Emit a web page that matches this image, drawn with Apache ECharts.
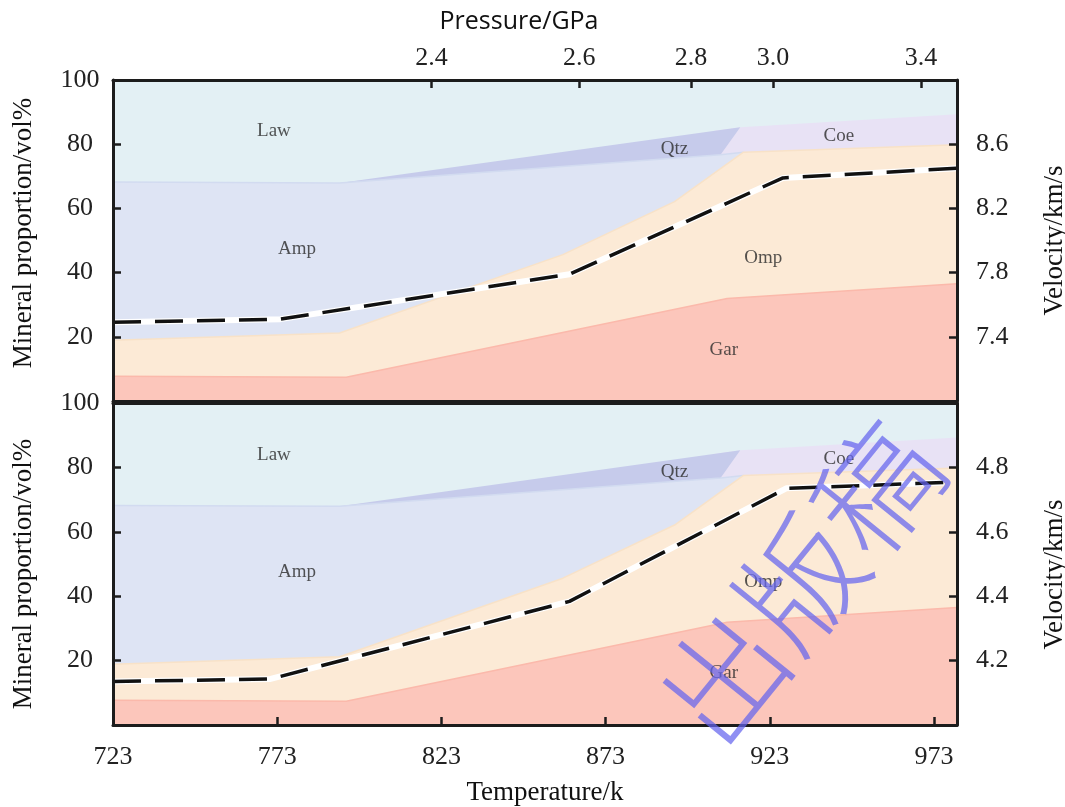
<!DOCTYPE html>
<html><head><meta charset="utf-8">
<script src="https://cdn.jsdelivr.net/npm/echarts@6/dist/echarts.min.js"></script>
<style>html,body{margin:0;padding:0;background:#fff}#c{width:1065px;height:807px}</style>
</head><body><div id="c"></div>
<script>
// ---------- data ----------
// temperature axis ticks (K)
const tempTicks = [723, 773, 823, 873, 923, 973];
// pressure axis: labels and the temperature at which each one sits
const pressureLabels = ['2.4', '2.6', '2.8', '3.0', '3.4'];
const pressureAtTemp = [820, 865, 899, 924, 969];
// velocity ticks
const vpTicks = [7.4, 7.8, 8.2, 8.6];
const vsTicks = [4.2, 4.4, 4.6, 4.8];

// mineral fields: upper edge of each coloured field, [T (K), vol%]
const lawTop = [[723, 100], [980, 100]];
const coeTop = [[906, 84.2], [914, 85.3], [980, 89.3]];
const qtzTop = [[792, 67.9], [914, 85.3], [908, 76.7]];
const ampTop = [[723, 68.2], [792, 67.9], [908, 76.7], [915, 77.5]];
const ompTop = [[723, 18.9], [792, 21.2], [860, 45.6], [894, 62.1], [915, 77.5], [980, 79.8]];
const garTop = [[723, 7.7], [794, 7.4], [910, 31.9], [980, 36.5]];

// velocity curves
const vpTemp = [723, 774, 862, 927, 980];
const vpVal  = [7.49, 7.51, 7.79, 8.39, 8.45];
const vsTemp = [723, 771, 862, 928, 976];
const vsVal  = [4.135, 4.143, 4.384, 4.735, 4.753];

// field names and where they are written
const fieldNames  = ['Law', 'Amp', 'Qtz', 'Coe', 'Omp', 'Gar'];
const fieldLabelT = [772, 779, 894, 944, 921, 909];
const fieldLabelP = [84, 47.5, 78.5, 82.5, 44.5, 16];

// ---------- styles ----------
const SERIF = 'Liberation Serif';
const INK = '#1c1c1c';
const fields = [
  {data: lawTop, color: '#e3f0f4', edge: null},
  {data: coeTop, color: '#e8e2f5', edge: null},
  {data: qtzTop, color: '#c6cbeb', edge: null},
  {data: ampTop, color: '#dee4f4', edge: '#d2dbf0'},
  {data: ompTop, color: '#fcead6', edge: '#f8e2c8'},
  {data: garTop, color: '#fcc6bb', edge: '#fbb9ab'}
];

const TMIN = 723, TMAX = 980;
const axisLine = {show: true, onZero: false, lineStyle: {color: INK, width: 3}};
const tick = {show: true, inside: true, length: 8, lineStyle: {color: INK, width: 2.5}};
const lab = {fontFamily: SERIF, fontSize: 26, color: '#222'};
const NAMEFS = 27;

function tempAxis(gi, pos, showLabels) {
  return {
    type: 'value', gridIndex: gi, position: pos, min: TMIN, max: TMAX, z: 10,
    axisLine, splitLine: {show: false},
    axisTick: showLabels ? Object.assign({customValues: tempTicks}, tick) : {show: false},
    axisLabel: showLabels ? Object.assign({customValues: tempTicks, margin: 19}, lab) : {show: false},
    name: showLabels ? 'Temperature/k' : '', nameLocation: 'middle', nameGap: 54,
    nameTextStyle: {fontFamily: SERIF, fontSize: NAMEFS, color: '#111', padding: [0, 0, 0, 20]}
  };
}
function propAxis(gi, nameShift) {
  return {
    type: 'value', gridIndex: gi, position: 'left', min: 0, max: 100, interval: 20, z: 10,
    axisLine, axisTick: tick, splitLine: {show: false},
    axisLabel: Object.assign({showMinLabel: false, align: 'center', margin: 33}, lab),
    name: 'Mineral proportion/vol%', nameLocation: 'middle', nameGap: 76,
    nameTextStyle: {fontFamily: SERIF, fontSize: NAMEFS, color: '#111', padding: nameShift}
  };
}
function velAxis(gi, min, max, ticks, nameShift) {
  return {
    type: 'value', gridIndex: gi, position: 'right', min, max, z: 10,
    axisLine, splitLine: {show: false},
    axisTick: Object.assign({customValues: ticks}, tick),
    axisLabel: Object.assign({customValues: ticks, margin: 19, formatter: v => v.toFixed(1)}, lab),
    name: 'Velocity/km/s', nameLocation: 'middle', nameGap: 84,
    nameTextStyle: {fontFamily: SERIF, fontSize: NAMEFS, color: '#111', padding: nameShift}
  };
}

function panelSeries(xi, yl, yr, vT, vV) {
  const s = [];
  fields.forEach((f, i) => {
    s.push({
      type: 'line', xAxisIndex: xi, yAxisIndex: yl, data: f.data, symbol: 'none', silent: true,
      lineStyle: {width: f.edge ? 1.5 : 0, color: f.edge || f.color},
      areaStyle: {color: f.color, opacity: 1}, z: 2 + i * 0.01
    });
  });
  const vel = vT.map((t, i) => [t, vV[i]]);
  s.push({type: 'line', xAxisIndex: xi, yAxisIndex: yr, data: vel, symbol: 'none', silent: true,
    lineStyle: {color: '#ffffff', width: 6, cap: 'butt', join: 'round'}, z: 3});
  s.push({type: 'line', xAxisIndex: xi, yAxisIndex: yr, data: vel, symbol: 'none', silent: true,
    lineStyle: {color: '#111', width: 3.5, type: [28, 14], cap: 'butt', join: 'round'}, z: 4});
  s.push({type: 'scatter', xAxisIndex: xi, yAxisIndex: yl, symbolSize: 1, silent: true, z: 5,
    itemStyle: {color: 'rgba(0,0,0,0)'},
    data: fieldNames.map((n, i) => ({name: n, value: [fieldLabelT[i], fieldLabelP[i]]})),
    label: {show: true, position: 'inside', formatter: p => p.name,
      fontFamily: SERIF, fontSize: 19, color: '#2a2a2a'}});
  return s;
}

const option = {
  backgroundColor: '#ffffff',
  animation: false,
  grid: [
    {left: 113, top: 80, width: 844, height: 321, containLabel: false, outerBoundsMode: 'none'},
    {left: 113, top: 403, width: 844, height: 322, containLabel: false, outerBoundsMode: 'none'}
  ],
  xAxis: [
    tempAxis(0, 'bottom', false),
    {
      type: 'value', gridIndex: 0, position: 'top', min: TMIN, max: TMAX, z: 10,
      axisLine, splitLine: {show: false},
      axisTick: Object.assign({customValues: pressureAtTemp}, tick),
      axisLabel: Object.assign({customValues: pressureAtTemp, margin: 9,
        formatter: v => pressureLabels[pressureAtTemp.indexOf(v)]}, lab),
      name: 'Pressure/GPa', nameLocation: 'middle', nameGap: 46,
      nameTextStyle: {fontFamily: 'Open Sans', fontSize: 25, color: '#111', padding: [0, 32, 0, 0]}
    },
    tempAxis(1, 'bottom', true),
    {type: 'value', gridIndex: 1, position: 'top', min: TMIN, max: TMAX, z: 10,
      axisLine, splitLine: {show: false}, axisTick: {show: false}, axisLabel: {show: false}}
  ],
  yAxis: [
    propAxis(0, [0, 0, 0, 15]),
    velAxis(0, 7.0, 9.0, vpTicks, [0, 0, 0, 0]),
    propAxis(1, [0, 20, 0, 0]),
    velAxis(1, 4.0, 5.0, vsTicks, [0, 21, 0, 0])
  ],
  series: [].concat(
    panelSeries(0, 0, 1, vpTemp, vpVal),
    panelSeries(2, 2, 3, vsTemp, vsVal)
  ),
  graphic: [{
    type: 'text', x: 800, y: 583, rotation: 0.89, z: 100, silent: true,
    style: {text: '出版稿', fontSize: 122, fontFamily: 'Noto Sans CJK SC', fontWeight: 300,
      fill: 'rgba(100,100,238,0.72)', align: 'center', verticalAlign: 'middle'}
  }]
};

const chart = echarts.init(document.getElementById('c'), null, {renderer: 'canvas'});
chart.setOption(option);
</script>
</body></html>
